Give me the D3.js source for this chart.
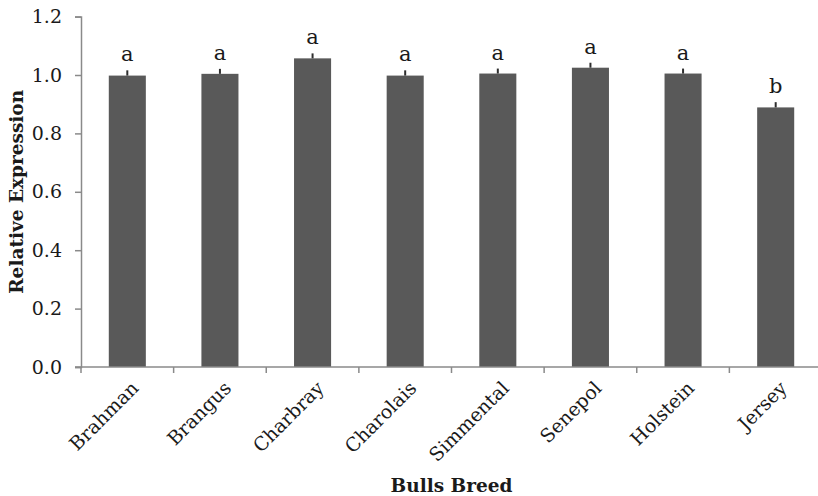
<!DOCTYPE html>
<html>
<head>
<meta charset="utf-8">
<script src="https://cdn.jsdelivr.net/npm/d3@7"></script>
<style>
  html, body { margin: 0; padding: 0; background: #fff; }
  svg text { font-family: "DejaVu Serif", "Liberation Serif", serif; fill: #1a1a1a; }
</style>
</head>
<body>
<svg id="chart" width="818" height="496"></svg>
<script>
// Relative expression by bull breed, with standard error and significance letters
const breeds = ["Brahman", "Brangus", "Charbray", "Charolais", "Simmental", "Senepol", "Holstein", "Jersey"];
const expression = [0.998, 1.004, 1.057, 0.998, 1.005, 1.025, 1.005, 0.889];
const stdError = [0.018, 0.017, 0.017, 0.018, 0.017, 0.017, 0.017, 0.018];
const letters = ["a", "a", "a", "a", "a", "a", "a", "b"];
const yTicks = [0, 0.2, 0.4, 0.6, 0.8, 1.0, 1.2];

const svg = d3.select("#chart");
const plotLeft = 81, plotRight = 822, plotTop = 16.6, plotBottom = 367;

const x = d3.scaleBand().domain(breeds).range([plotLeft, plotRight]).paddingInner(0.6).paddingOuter(0.3);
const y = d3.scaleLinear().domain([0, 1.2]).range([plotBottom, plotTop]);
const axisColor = "#8a8a8a";

// Y axis
const yAxis = svg.append("g")
  .attr("transform", `translate(${plotLeft},0)`)
  .call(d3.axisLeft(y).tickValues(yTicks).tickFormat(d3.format(".1f")).tickSize(6).tickPadding(13));
yAxis.select(".domain").attr("stroke", axisColor).attr("stroke-width", 1.5);
yAxis.selectAll(".tick line").attr("stroke", axisColor).attr("stroke-width", 1.5);
yAxis.selectAll(".tick text").attr("font-size", 19).attr("font-family", "DejaVu Serif").attr("fill", "#1a1a1a");

// Bars
svg.append("g").selectAll("rect")
  .data(breeds)
  .join("rect")
  .attr("x", d => x(d))
  .attr("width", x.bandwidth())
  .attr("y", (d, i) => y(expression[i]))
  .attr("height", (d, i) => y(0) - y(expression[i]))
  .attr("fill", "#595959");

// Upper error bars
svg.append("g").selectAll("line")
  .data(breeds)
  .join("line")
  .attr("x1", d => x(d) + x.bandwidth() / 2)
  .attr("x2", d => x(d) + x.bandwidth() / 2)
  .attr("y1", (d, i) => y(expression[i]))
  .attr("y2", (d, i) => y(expression[i] + stdError[i]))
  .attr("stroke", "#2e2e2e")
  .attr("stroke-width", 2);

// Significance letters
svg.append("g").selectAll("text")
  .data(breeds)
  .join("text")
  .attr("x", d => x(d) + x.bandwidth() / 2)
  .attr("y", (d, i) => y(expression[i] + stdError[i]) - 9)
  .attr("text-anchor", "middle")
  .attr("font-size", 21)
  .text((d, i) => letters[i]);

// X axis: line with ticks at category boundaries
const step = (plotRight - plotLeft) / breeds.length;
const xAxisG = svg.append("g");
xAxisG.append("line")
  .attr("x1", plotLeft - 6).attr("x2", plotRight)
  .attr("y1", plotBottom).attr("y2", plotBottom)
  .attr("stroke", axisColor).attr("stroke-width", 1.5);
xAxisG.selectAll("line.tick")
  .data(d3.range(breeds.length + 1))
  .join("line")
  .attr("class", "tick")
  .attr("x1", i => plotLeft + i * step).attr("x2", i => plotLeft + i * step)
  .attr("y1", plotBottom).attr("y2", plotBottom + 6)
  .attr("stroke", axisColor).attr("stroke-width", 1.5);

// Rotated category labels
xAxisG.selectAll("text")
  .data(breeds)
  .join("text")
  .attr("transform", d => `translate(${x(d) + x.bandwidth() / 2 + 3},${plotBottom + 13}) rotate(-45)`)
  .attr("text-anchor", "end")
  .attr("dy", "0.7em")
  .attr("font-size", 19)
  .text(d => d);

// Axis titles
svg.append("text")
  .attr("x", (plotLeft + plotRight) / 2)
  .attr("y", 492)
  .attr("text-anchor", "middle")
  .attr("font-size", 18.5)
  .attr("font-weight", "bold")
  .text("Bulls Breed");

svg.append("text")
  .attr("transform", `translate(23,${(plotTop + plotBottom) / 2}) rotate(-90)`)
  .attr("text-anchor", "middle")
  .attr("font-size", 18.5)
  .attr("font-weight", "bold")
  .text("Relative Expression");
</script>
</body>
</html>
